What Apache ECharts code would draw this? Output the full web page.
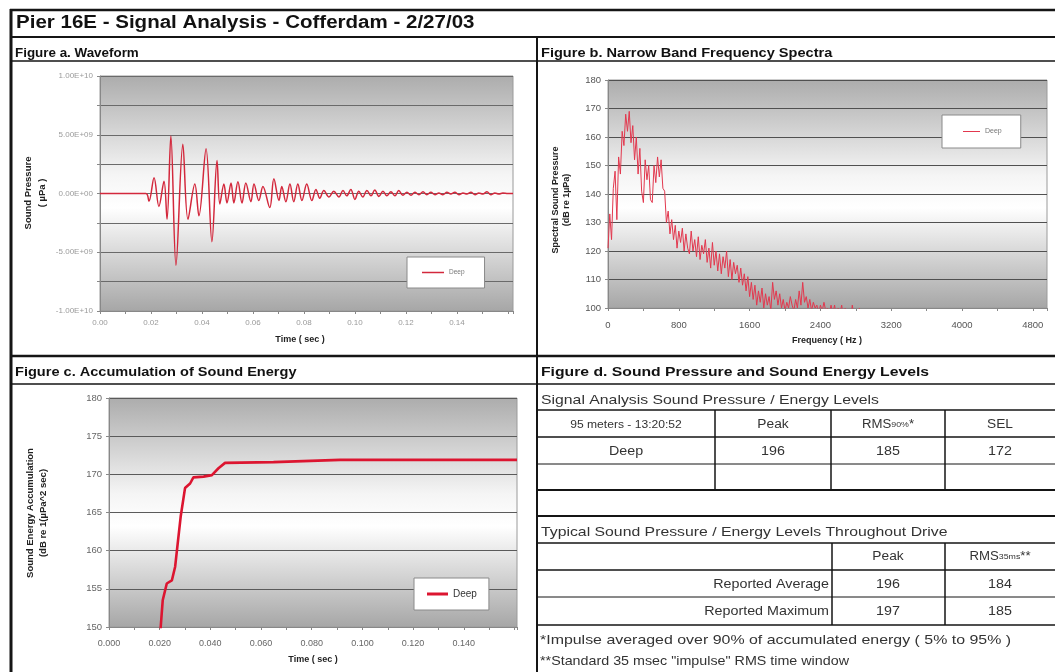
<!DOCTYPE html>
<html><head><meta charset="utf-8">
<script src="https://cdn.jsdelivr.net/npm/echarts@6/dist/echarts.min.js"></script>
<style>html,body{margin:0;padding:0;background:#fff}#c{width:1055px;height:672px}</style>
</head><body><div id="c"></div>
<script>
// ---------- DATA ----------
const pageTitle = 'Pier 16E - Signal Analysis - Cofferdam - 2/27/03';
const seriesName = 'Deep';

// Figure a. Waveform (time in sec, sound pressure in µPa)
const waveTime = [0, 0.0180, 0.0192, 0.0212, 0.0231, 0.0251, 0.0263, 0.0278, 0.0298, 0.0325, 0.0345, 0.0372, 0.0388, 0.0416, 0.0439, 0.0459, 0.0470, 0.0486, 0.0498, 0.0514, 0.0525, 0.0541, 0.0557, 0.0572, 0.0592, 0.0604, 0.0623, 0.0639, 0.0666, 0.0682, 0.0702, 0.0713, 0.0729, 0.0745, 0.0760, 0.0776, 0.0792, 0.0811, 0.0831, 0.0847, 0.0862, 0.0878, 0.0898, 0.0917, 0.0937, 0.0953, 0.0968, 0.0984, 0.1000, 0.1015, 0.1031, 0.1047, 0.1063, 0.1078, 0.1094, 0.1110, 0.1125, 0.1141, 0.1157, 0.1172, 0.1188, 0.1204, 0.1220, 0.1235, 0.1251, 0.1267, 0.1282, 0.1298, 0.1314, 0.1329, 0.1345, 0.1361, 0.1376, 0.1392, 0.1408, 0.1424, 0.1439, 0.1455, 0.1471, 0.1486, 0.1502, 0.1518, 0.1533, 0.1549, 0.1565, 0.1580, 0.1600, 0.1620];
const wavePressure = [0, 0, -0.66e9, 1.34e9, -1.1e9, 1.05e9, -2.2e9, 4.9e9, -6.1e9, 4.2e9, -2.2e9, 0.8e9, -1.9e9, 3.8e9, -4.1e9, 2.8e9, -0.9e9, 0.8e9, -0.8e9, 0.9e9, -0.8e9, 1.0e9, -0.8e9, 0.9e9, -0.7e9, 0.8e9, -0.6e9, 0.6e9, -1.2e9, 1.25e9, -0.6e9, 0.6e9, -0.7e9, 0.8e9, -0.7e9, 0.8e9, -0.6e9, 0.8e9, -0.6e9, 0.35e9, -0.4e9, 0.25e9, -0.3e9, 0.2e9, -0.3e9, 0.25e9, -0.2e9, 0.35e9, -0.5e9, 0.2e9, -0.3e9, 0.25e9, -0.2e9, 0.3e9, -0.25e9, 0.2e9, -0.2e9, 0.15e9, -0.2e9, 0.25e9, -0.15e9, 0.1e9, -0.15e9, 0.1e9, -0.1e9, 0.15e9, -0.1e9, 0.1e9, -0.1e9, 0.05e9, -0.1e9, 0.1e9, -0.05e9, 0.1e9, -0.1e9, 0.05e9, -0.05e9, 0.1e9, -0.1e9, 0.05e9, -0.05e9, 0.15e9, -0.1e9, 0.05e9, -0.05e9, 0.05e9, 0, 0];
const waveXLabels = ['0.00', '0.02', '0.04', '0.06', '0.08', '0.10', '0.12', '0.14'];
const waveYLabels = ['-1.00E+10', '-5.00E+09', '0.00E+00', '5.00E+09', '1.00E+10'];

// Figure b. Narrow band spectrum (Hz, dB re 1µPa)
const specFreq = [0, 20, 40, 60, 80, 100, 120, 140, 160, 180, 200, 220, 240, 260, 280, 300, 320, 340, 360, 380, 400, 420, 440, 460, 480, 500, 520, 540, 560, 580, 600, 620, 640, 660, 680, 700, 720, 740, 760, 780, 800, 820, 840, 860, 880, 900, 920, 940, 960, 980, 1000, 1020, 1040, 1060, 1080, 1100, 1120, 1140, 1160, 1180, 1200, 1220, 1240, 1260, 1280, 1300, 1320, 1340, 1360, 1380, 1400, 1420, 1440, 1460, 1480, 1500, 1520, 1540, 1560, 1580, 1600, 1620, 1640, 1660, 1680, 1700, 1720, 1740, 1760, 1780, 1800, 1820, 1840, 1860, 1880, 1900, 1920, 1940, 1960, 1980, 2000, 2020, 2040, 2060, 2080, 2100, 2120, 2140, 2160, 2180, 2200, 2220, 2240, 2260, 2280, 2300, 2320, 2340, 2360, 2380, 2400, 2420, 2440, 2460, 2480, 2500, 2520, 2540, 2560, 2580, 2600, 2620, 2640, 2660, 2680, 2700, 2720, 2740, 2760, 2780, 2800, 2820, 2840, 2860, 2880, 2900, 2920, 2940, 2960, 2980, 3000, 3050, 3100, 3200];
const specLevel = [121, 133, 124, 142, 148, 131, 153, 147, 162, 157, 168, 162, 169, 158, 164, 152, 160, 147, 156, 141, 137, 152, 145, 150, 138, 137, 150, 144, 153, 146, 152, 142, 141, 130, 134, 126, 131, 124, 129, 121, 127, 123, 128, 120, 126, 121, 119, 127, 120, 124, 118, 125, 117, 122, 119, 124, 116, 121, 114, 123, 115, 120, 113, 119, 112, 118, 114, 120, 111, 117, 110, 116, 112, 115, 109, 114, 108, 112, 106, 111, 104, 109, 103, 108, 101, 106, 102, 107, 100, 105, 101, 104, 99, 109, 103, 106, 101, 105, 100, 103, 99, 102, 100, 104, 101, 99, 103, 100, 106, 101, 109, 102, 104, 100, 103, 99, 102, 100, 101, 98, 101, 99, 102, 99, 100, 98, 101, 98, 101, 97, 100, 98, 101, 97, 100, 97, 99, 96, 101, 97, 99, 96, 100, 96, 98, 95, 99, 95, 97, 94, 96, 93, 95, 92];
const specXLabels = ['0', '800', '1600', '2400', '3200', '4000', '4800'];
const specYLabels = ['100', '110', '120', '130', '140', '150', '160', '170', '180'];

// Figure c. Accumulation of sound energy (sec, dB re 1µPa^2 sec)
const accTime = [0.0190, 0.0204, 0.0212, 0.0228, 0.0248, 0.0261, 0.0274, 0.0283, 0.0300, 0.0320, 0.0333, 0.0373, 0.0406, 0.0432, 0.0458, 0.0649, 0.0912, 0.1610];
const accLevel = [140, 150.0, 153.5, 155.7, 156.1, 157.9, 161.8, 164.5, 168.2, 168.8, 169.6, 169.7, 169.9, 170.8, 171.5, 171.6, 171.9, 171.9];
const accXLabels = ['0.000', '0.020', '0.040', '0.060', '0.080', '0.100', '0.120', '0.140'];
const accYLabels = ['150', '155', '160', '165', '170', '175', '180'];

// Figure d. Tables
const signalHeader = ['95 meters - 13:20:52', 'Peak', 'RMS90%*', 'SEL'];
const signalRow = ['Deep', 196, 185, 172];
const typicalHeader = ['', 'Peak', 'RMS35ms**'];
const typicalRowLabels = ['Reported Average', 'Reported Maximum'];
const typicalPeak = [196, 197];
const typicalRms = [184, 185];
const footnotes = ['*Impulse averaged over 90% of accumulated energy ( 5% to 95% )', '**Standard 35 msec "impulse" RMS time window'];

// ---------- CHART ----------
const FONT = "'Liberation Sans', Arial, Helvetica, sans-serif";
const chart = echarts.init(document.getElementById('c'), null, {renderer: 'canvas'});

function bg() {
  return new echarts.graphic.LinearGradient(0, 0, 0, 1, [
    {offset: 0, color: '#acacac'}, {offset: 0.42, color: '#f5f5f5'},
    {offset: 0.56, color: '#ffffff'}, {offset: 1, color: '#a6a6a6'}]);
}
function lookup(labels, start, step) {
  return v => {
    const i = Math.round((v - start) / step);
    return (Math.abs(v - (start + i * step)) < Math.abs(step) * 1e-6 && i >= 0 && i < labels.length) ? labels[i] : '';
  };
}
const L = (x1, y1, x2, y2, w, c) => ({type: 'line', silent: true, z: 100, shape: {x1, y1, x2, y2}, style: {stroke: c || '#151515', lineWidth: w || 1}});
const T = (x, y, text, o) => ({type: 'text', silent: true, z: 100, x, y, rotation: (o && o.rot) || 0, scaleX: (o && o.sx) || 1,
  style: Object.assign({text, fontFamily: FONT, fontSize: 13, fill: '#333', textAlign: 'left', textVerticalAlign: 'middle'}, o && o.style)});
const HEAD = {fontSize: 13, fontWeight: 'bold', fill: '#111'};
const RICH = {a: {fontSize: 12, fontFamily: FONT, fill: '#333'}, b: {fontSize: 8, fontFamily: FONT, fill: '#333'}};

const graphics = [
  L(10, 10, 1055, 10, 2.5), L(11, 9, 11, 672, 3),
  L(10, 37, 1055, 37, 2), L(10, 61, 1055, 61, 1.5),
  L(537, 37, 537, 672, 2),
  L(10, 356, 1055, 356, 2.5), L(10, 384, 1055, 384, 1.5),
  L(537, 410, 1055, 410, 1.5), L(537, 437, 1055, 437, 1.5), L(537, 464, 1055, 464, 1),
  L(537, 490, 1055, 490, 2), L(537, 516, 1055, 516, 2),
  L(715, 410, 715, 490, 1.5), L(831, 410, 831, 490, 1.5), L(945, 410, 945, 490, 1.5),
  L(537, 543, 1055, 543, 1.5), L(537, 570, 1055, 570, 1.5), L(537, 597, 1055, 597, 1), L(537, 625, 1055, 625, 1.5),
  L(832, 543, 832, 625, 1.5), L(945, 543, 945, 625, 1.5),
  T(16, 23, pageTitle, {sx: 1.14, style: {fontSize: 18, fontWeight: 'bold', fill: '#111'}}),
  T(15, 53, 'Figure a. Waveform', {sx: 1.03, style: HEAD}),
  T(541, 53, 'Figure b. Narrow Band Frequency Spectra', {sx: 1.12, style: HEAD}),
  T(15, 372, 'Figure c. Accumulation of Sound Energy', {sx: 1.12, style: HEAD}),
  T(541, 372, 'Figure d. Sound Pressure and Sound Energy Levels', {sx: 1.21, style: HEAD}),
  // axis titles
  T(35, 193, 'Sound Pressure\n( µPa )', {rot: Math.PI / 2, style: {fontSize: 9.5, fontWeight: 'bold', fill: '#222', textAlign: 'center', lineHeight: 14}}),
  T(561, 200, 'Spectral Sound Pressure\n(dB re 1µPa)', {rot: Math.PI / 2, style: {fontSize: 9, fontWeight: 'bold', fill: '#222', textAlign: 'center', lineHeight: 11}}),
  T(37, 513, 'Sound Energy Accumulation\n(dB re 1(µPa^2 sec)', {rot: Math.PI / 2, style: {fontSize: 9.5, fontWeight: 'bold', fill: '#222', textAlign: 'center', lineHeight: 13}}),
  T(300, 340, 'Time ( sec )', {style: {fontSize: 9, fontWeight: 'bold', fill: '#222', textAlign: 'center'}}),
  T(827, 341, 'Frequency ( Hz )', {style: {fontSize: 9, fontWeight: 'bold', fill: '#222', textAlign: 'center'}}),
  T(313, 660, 'Time ( sec )', {style: {fontSize: 9, fontWeight: 'bold', fill: '#222', textAlign: 'center'}}),
  // table texts
  T(541, 400, 'Signal Analysis Sound Pressure / Energy Levels', {sx: 1.17, style: {fontSize: 13.5}}),
  T(626, 425, signalHeader[0], {sx: 1.1, style: {fontSize: 11, textAlign: 'center'}}),
  T(773, 425, signalHeader[1], {sx: 1.1, style: {fontSize: 12.5, textAlign: 'center'}}),
  T(888, 425, '{a|RMS}{b|90%}{a|*}', {sx: 1.1, style: {textAlign: 'center', rich: RICH}}),
  T(1000, 425, signalHeader[3], {sx: 1.1, style: {fontSize: 12.5, textAlign: 'center'}}),
  T(626, 451, signalRow[0], {sx: 1.1, style: {fontSize: 13, textAlign: 'center'}}),
  T(773, 451, String(signalRow[1]), {sx: 1.1, style: {fontSize: 13, textAlign: 'center'}}),
  T(888, 451, String(signalRow[2]), {sx: 1.1, style: {fontSize: 13, textAlign: 'center'}}),
  T(1000, 451, String(signalRow[3]), {sx: 1.1, style: {fontSize: 13, textAlign: 'center'}}),
  T(541, 532, 'Typical Sound Pressure / Energy Levels Throughout Drive', {sx: 1.17, style: {fontSize: 13.5}}),
  T(888, 557, typicalHeader[1], {sx: 1.1, style: {fontSize: 12.5, textAlign: 'center'}}),
  T(1000, 557, '{a|RMS}{b|35ms}{a|**}', {sx: 1.1, style: {textAlign: 'center', rich: RICH}}),
  T(829, 584, typicalRowLabels[0], {sx: 1.1, style: {fontSize: 13, textAlign: 'right'}}),
  T(888, 584, String(typicalPeak[0]), {sx: 1.1, style: {fontSize: 13, textAlign: 'center'}}),
  T(1000, 584, String(typicalRms[0]), {sx: 1.1, style: {fontSize: 13, textAlign: 'center'}}),
  T(829, 611, typicalRowLabels[1], {sx: 1.1, style: {fontSize: 13, textAlign: 'right'}}),
  T(888, 611, String(typicalPeak[1]), {sx: 1.1, style: {fontSize: 13, textAlign: 'center'}}),
  T(1000, 611, String(typicalRms[1]), {sx: 1.1, style: {fontSize: 13, textAlign: 'center'}}),
  T(540, 640, footnotes[0], {sx: 1.18, style: {fontSize: 13.5}}),
  T(540, 661, footnotes[1], {sx: 1.1, style: {fontSize: 13}})
];

function xAxisCfg(gi, max, interval, labels, fontSize, color, margin) {
  return {type: 'value', gridIndex: gi, min: 0, max, interval,
    axisLine: {show: true, onZero: false, lineStyle: {color: '#888', width: 1}},
    axisTick: {show: true, length: 3, lineStyle: {color: '#888'}},
    minorTick: {show: true, splitNumber: 2, length: 3, lineStyle: {color: '#888'}},
    splitLine: {show: false},
    axisLabel: {formatter: lookup(labels, 0, interval), fontFamily: FONT, fontSize, color, margin, showMaxLabel: false}};
}
function yAxisCfg(gi, min, max, interval, labels, labelStart, labelStep, fontSize, color, gridColor) {
  return {type: 'value', gridIndex: gi, min, max, interval,
    axisLine: {show: true, lineStyle: {color: '#888', width: 1}},
    axisTick: {show: true, length: 3, lineStyle: {color: '#888'}},
    splitLine: {show: true, lineStyle: {color: gridColor, width: 1}},
    axisLabel: {formatter: lookup(labels, labelStart, labelStep), fontFamily: FONT, fontSize, color, margin: 7}};
}
function legendCfg(name, color, left, top, padding, itemWidth, itemHeight, fontSize, textColor) {
  return {data: [{name, icon: 'rect', itemStyle: {color}}], left, top, padding, itemWidth, itemHeight, selectedMode: false,
    formatter: () => seriesName, backgroundColor: '#fff', borderColor: '#8a8a8a', borderWidth: 1, borderRadius: 0,
    textStyle: {fontFamily: FONT, fontSize, color: textColor}};
}

const option = {
  backgroundColor: '#fff',
  animation: false,
  grid: [
    {left: 100, top: 76, width: 413, height: 235, show: true, backgroundColor: bg(), borderColor: '#9a9a9a', borderWidth: 1},
    {left: 608, top: 80, width: 439, height: 228, show: true, backgroundColor: bg(), borderColor: '#9a9a9a', borderWidth: 1},
    {left: 109, top: 398, width: 408, height: 229, show: true, backgroundColor: bg(), borderColor: '#9a9a9a', borderWidth: 1}
  ],
  xAxis: [
    xAxisCfg(0, 0.162, 0.02, waveXLabels, 8, '#9a9a9a', 8),
    xAxisCfg(1, 4960, 800, specXLabels, 9.5, '#555', 12),
    xAxisCfg(2, 0.161, 0.02, accXLabels, 9, '#666', 12)
  ],
  yAxis: [
    yAxisCfg(0, -1e10, 1e10, 2.5e9, waveYLabels, -1e10, 5e9, 8, '#9a9a9a', '#6a6a6a'),
    yAxisCfg(1, 100, 180, 10, specYLabels, 100, 10, 9.5, '#555', '#505050'),
    yAxisCfg(2, 150, 180, 5, accYLabels, 150, 5, 9.5, '#666', '#5a5a5a')
  ],
  legend: [
    legendCfg('DeepA', '#d3283c', 407, 257, [12, 20, 12, 15], 22, 1.5, 6.5, '#777'),
    legendCfg('DeepB', '#e2384e', 942, 115, [13, 19, 13, 21], 17, 1, 7, '#777'),
    legendCfg('DeepC', '#dc1530', 414, 578, [11, 12, 11, 13], 21, 3, 10, '#333')
  ],
  series: [
    {name: 'DeepA', type: 'line', xAxisIndex: 0, yAxisIndex: 0, symbol: 'none', smooth: 0.35,
      data: waveTime.map((t, i) => [t, wavePressure[i]]),
      lineStyle: {color: '#d3283c', width: 1.5}, itemStyle: {color: '#d3283c'}},
    {name: 'DeepB', type: 'line', xAxisIndex: 1, yAxisIndex: 1, symbol: 'none',
      data: specFreq.map((f, i) => [f, specLevel[i]]),
      lineStyle: {color: '#e2384e', width: 1}, itemStyle: {color: '#e2384e'}},
    {name: 'DeepC', type: 'line', xAxisIndex: 2, yAxisIndex: 2, symbol: 'none',
      data: accTime.map((t, i) => [t, accLevel[i]]),
      lineStyle: {color: '#dc1530', width: 2.6}, itemStyle: {color: '#dc1530'}}
  ],
  graphic: graphics
};
chart.setOption(option);
</script>
</body></html>
